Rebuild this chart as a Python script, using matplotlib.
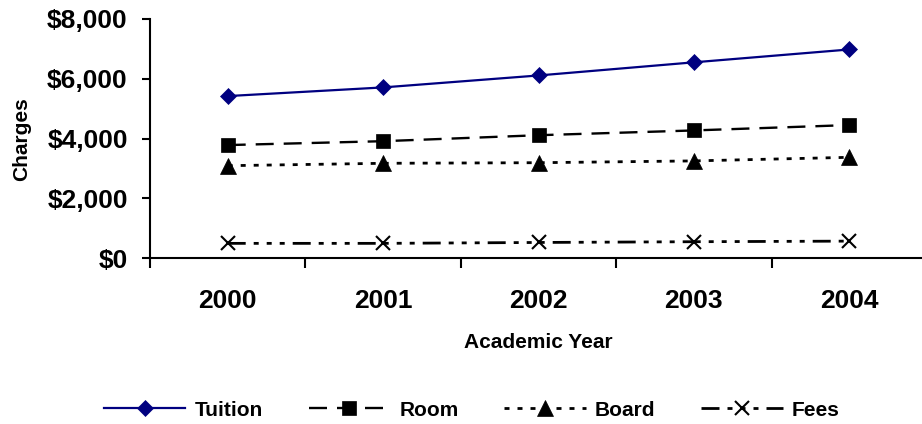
import matplotlib
matplotlib.use("Agg")
import matplotlib.pyplot as plt
from matplotlib.ticker import FixedLocator, FuncFormatter

plt.rcParams['font.family'] = ['Liberation Sans', 'DejaVu Sans']
plt.rcParams['font.weight'] = 'bold'
plt.rcParams['lines.scale_dashes'] = False

years = ["2000", "2001", "2002", "2003", "2004"]
tuition = [5420, 5710, 6110, 6550, 6980]
room = [3780, 3910, 4110, 4270, 4450]
board = [3090, 3170, 3190, 3250, 3370]
fees = [490, 490, 520, 545, 565]

fig = plt.figure(figsize=(9.22, 4.24), dpi=100)
W, H = 922, 424
ax = fig.add_axes([150 / W, (H - 258) / H, 777 / W, 239 / H])

x = list(range(1, len(years) + 1))
px = 0.72  # points per pixel

lines = []
lines += ax.plot(x, tuition, color='#000080', lw=1.6, marker='D', ms=7.8,
                 mfc='#000080', mec='#000080', mew=0.5, label='Tuition')
lines += ax.plot(x, room, color='black', lw=1.7,
                 linestyle=(0, (18 * px, 10 * px)),
                 marker='s', ms=10.5, mfc='black', mec='black', mew=0.5, label='Room')
lines += ax.plot(x, board, color='black', lw=2.0,
                 linestyle=(0, (5 * px, 8 * px)),
                 marker='^', ms=11, mfc='black', mec='black', mew=0.5, label='Board')
lines += ax.plot(x, fees, color='black', lw=2.0,
                 linestyle=(0, (18 * px, 8 * px, 5 * px, 8 * px, 5 * px, 8 * px, 5 * px, 8 * px)),
                 marker='x', ms=10.5, mec='black', mew=1.5, label='Fees')

ax.set_xlim(0.5, 5.5)
ax.set_ylim(0, 8000)
ax.spines['top'].set_visible(False)
ax.spines['right'].set_visible(False)
for s in ('left', 'bottom'):
    ax.spines[s].set_linewidth(1.5)
    ax.spines[s].set_color('black')

ax.set_yticks([0, 2000, 4000, 6000, 8000])
ax.yaxis.set_major_formatter(FuncFormatter(lambda v, p: "${:,.0f}".format(v)))
ax.tick_params(axis='y', direction='out', length=6, width=1.5, pad=10,
               labelsize=19)

ax.set_xticks(x)
ax.set_xticklabels(years)
ax.xaxis.set_minor_locator(FixedLocator([0.5, 1.5, 2.5, 3.5, 4.5, 5.5]))
ax.tick_params(axis='x', which='major', length=0, pad=22, labelsize=19)
ax.tick_params(axis='x', which='minor', direction='out', length=7, width=1.5)
for lab in ax.get_xticklabels() + ax.get_yticklabels():
    lab.set_fontweight('bold')

fig.text(538 / W, (H - 348) / H, "Academic Year", ha='center', va='baseline',
         fontsize=15, fontweight='bold')
fig.text(22 / W, (H - 139) / H, "Charges", ha='center', va='center',
         rotation=90, fontsize=15, fontweight='bold')

leg = fig.legend(handles=lines, loc='center', bbox_to_anchor=(472 / W, (H - 410) / H),
                 ncol=4, frameon=False, fontsize=15, handlelength=3.9,
                 handletextpad=0.45, columnspacing=2.2, numpoints=1)
for t in leg.get_texts():
    t.set_fontweight('bold')

fig.savefig("out.png", dpi=100)
